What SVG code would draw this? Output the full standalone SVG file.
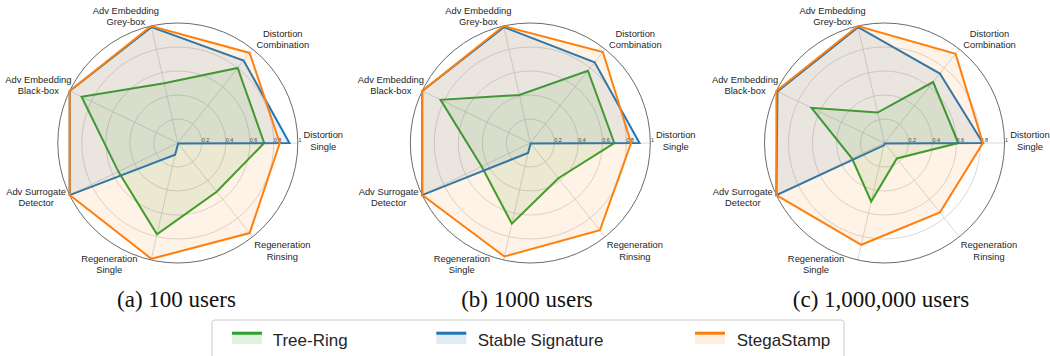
<svg xmlns="http://www.w3.org/2000/svg" width="1050" height="356" viewBox="0 0 1050 356">
<style>
.bg{fill:#ffffff}
.grid{fill:none;stroke:#cfcfcf;stroke-width:0.8}
.spoke{stroke:#cfcfcf;stroke-width:0.8}
.outer{fill:none;stroke:#444444;stroke-width:0.8}
.tick{font-family:"Liberation Sans",Arial,sans-serif;font-size:5.4px;fill:#333333}
.lab{font-family:"Liberation Sans",Arial,sans-serif;font-size:9.4px;fill:#262626;text-anchor:middle}
.cap{font-family:"Liberation Serif","Times New Roman",serif;font-size:23px;fill:#111111;text-anchor:middle}
.leg{font-family:"Liberation Sans",Arial,sans-serif;font-size:17px;fill:#262626}
.g{stroke:#2ca02c;fill:#2ca02c}
.b{stroke:#1f77b4;fill:#1f77b4}
.o{stroke:#ff7f0e;fill:#ff7f0e}
.poly{fill-opacity:0.1;stroke-width:2;stroke-linejoin:miter}
.sw{fill-opacity:0.14;stroke:none}
</style>
<defs>
<g id="frame">
<circle class="grid" r="24"/>
<circle class="grid" r="48"/>
<circle class="grid" r="72"/>
<circle class="grid" r="96"/>
<line class="spoke" x1="0" y1="0" x2="120" y2="0"/>
<line class="spoke" x1="0" y1="0" x2="74.82" y2="-93.82"/>
<line class="spoke" x1="0" y1="0" x2="-26.70" y2="-116.99"/>
<line class="spoke" x1="0" y1="0" x2="-108.12" y2="-52.07"/>
<line class="spoke" x1="0" y1="0" x2="-108.12" y2="52.07"/>
<line class="spoke" x1="0" y1="0" x2="-26.70" y2="116.99"/>
<line class="spoke" x1="0" y1="0" x2="74.82" y2="93.82"/>
<circle class="outer" r="120"/>
<text class="tick" x="24" y="-0.6">0.2</text>
<text class="tick" x="48" y="-0.6">0.4</text>
<text class="tick" x="72" y="-0.6">0.6</text>
<text class="tick" x="96" y="-0.6">0.8</text>
<text class="tick" x="120.6" y="-0.6">1</text>
</g>
<g id="labels">
<text class="lab" x="-52" y="-129.4">Adv Embedding<tspan x="-52" y="-117.6">Grey-box</tspan></text>
<text class="lab" x="105" y="-106">Distortion<tspan x="105" y="-95">Combination</tspan></text>
<text class="lab" x="-139.5" y="-60.2">Adv Embedding<tspan x="-139.5" y="-49.2">Black-box</tspan></text>
<text class="lab" x="145.5" y="-4.8">Distortion<tspan x="145.5" y="6.7">Single</tspan></text>
<text class="lab" x="-141.7" y="51.9">Adv Surrogate<tspan x="-141.7" y="62.9">Detector</tspan></text>
<text class="lab" x="-68.5" y="119">Regeneration<tspan x="-68.5" y="130.2">Single</tspan></text>
<text class="lab" x="104.5" y="105">Regeneration<tspan x="104.5" y="116.5">Rinsing</tspan></text>
</g>
</defs>
<rect class="bg" x="0" y="0" width="1050" height="356"/>

<g id="chart-a" transform="translate(177.8,143)">
<use href="#frame"/>
<polygon class="poly g" points="86.4,0 59.86,-75.06 -13.62,-59.66 -96.23,-46.34 -59.47,28.64 -20.83,91.25 38.91,48.79"/>
<polygon class="poly b" points="111.6,0 65.84,-82.56 -26.43,-115.82 -108.12,-52.07 -108.12,52.07 -2.67,11.70 0.37,0.47"/>
<polygon class="poly o" points="102,0 71.83,-90.07 -26.70,-116.99 -108.12,-52.07 -108.12,52.07 -26.43,115.82 71.83,90.07"/>
<use href="#labels"/>
</g>

<g id="chart-b" transform="translate(530.3,143)">
<use href="#frame"/>
<polygon class="poly g" points="84,0 57.61,-72.24 -10.95,-47.97 -89.74,-43.22 -48.65,23.43 -18.42,80.72 28.06,35.18"/>
<polygon class="poly b" points="109.2,0 64.35,-80.69 -26.43,-115.82 -108.12,-52.07 -108.12,52.07 -2.27,9.94 0.37,0.47"/>
<polygon class="poly o" points="100.8,0 72.58,-91.01 -26.70,-116.99 -108.12,-52.07 -108.12,52.07 -25.90,113.48 69.58,87.25"/>
<use href="#labels"/>
</g>

<g id="chart-c" transform="translate(884.5,143)">
<use href="#frame"/>
<polygon class="poly g" points="73.8,0 48.63,-60.98 -6.94,-30.42 -72.98,-35.15 -32.44,15.62 -13.35,58.50 12.35,15.48"/>
<polygon class="poly b" points="98.4,0 55.37,-69.43 -26.43,-115.82 -107.04,-51.55 -108.12,52.07 -0.53,2.34 0.37,0.47"/>
<polygon class="poly o" points="98.4,0 71.08,-89.13 -26.70,-116.99 -108.12,-52.07 -108.12,52.07 -23.23,101.78 55.37,69.43"/>
<use href="#labels"/>
</g>

<g id="captions">
<text class="cap" x="176.5" y="307">(a) 100 users</text>
<text class="cap" x="527" y="307">(b) 1000 users</text>
<text class="cap" x="881" y="307">(c) 1,000,000 users</text>
</g>

<g id="legend">
<rect x="212" y="320" width="632" height="50" rx="3" ry="3" fill="#ffffff" stroke="#cccccc" stroke-width="1"/>
<rect class="sw g" x="232" y="332" width="30" height="12"/>
<line x1="232" y1="333.2" x2="262" y2="333.2" stroke="#2ca02c" stroke-width="3"/>
<text class="leg" x="272.7" y="345.7">Tree-Ring</text>
<rect class="sw b" x="436.3" y="332" width="30" height="12"/>
<line x1="436.3" y1="333.2" x2="466.3" y2="333.2" stroke="#1f77b4" stroke-width="3"/>
<text class="leg" x="477.7" y="345.7">Stable Signature</text>
<rect class="sw o" x="695" y="332" width="30" height="12"/>
<line x1="695" y1="333.2" x2="725" y2="333.2" stroke="#ff7f0e" stroke-width="3"/>
<text class="leg" x="736.7" y="345.7">StegaStamp</text>
</g>
<g id="connectors"/>
</svg>
